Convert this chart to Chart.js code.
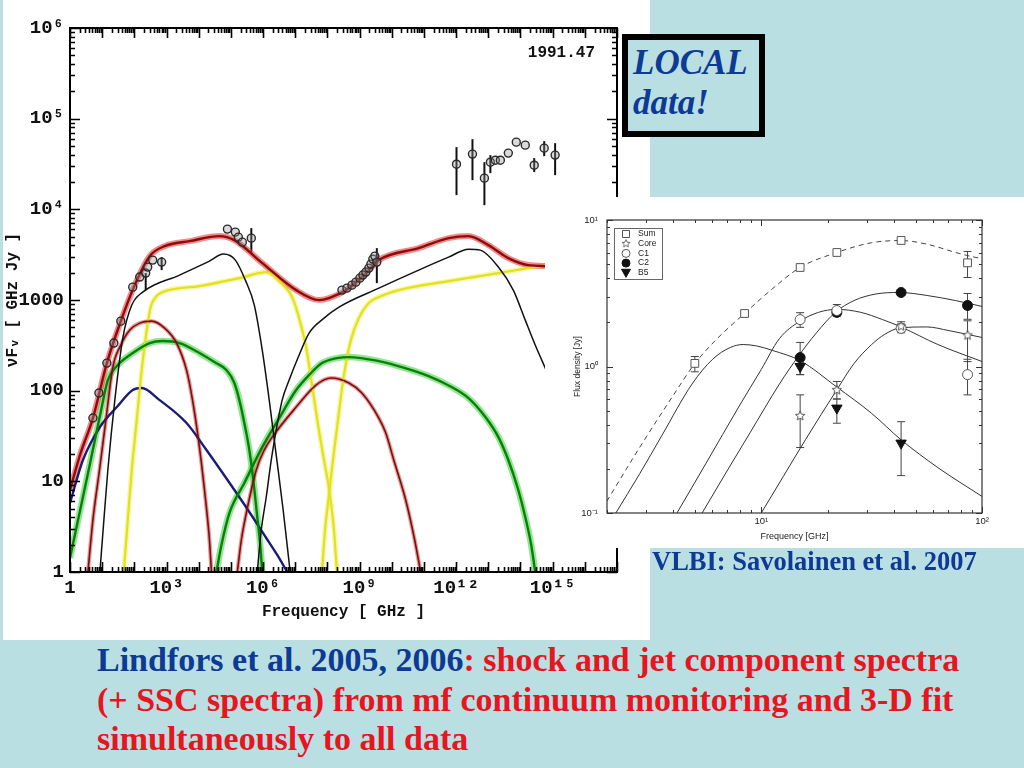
<!DOCTYPE html>
<html>
<head>
<meta charset="utf-8">
<title>Lindfors et al. spectra and VLBI component spectra</title>
<script src="https://cdn.jsdelivr.net/npm/chart.js@4.4.1/dist/chart.umd.min.js"></script>
<style>
  html, body { margin: 0; padding: 0; }
  body { width: 1024px; height: 768px; background: #badfe3; position: relative; overflow: hidden; }
  #leftPanel { position: absolute; left: 3px; top: 0; width: 647px; height: 640px; background: #fff; }
  #sed { position: absolute; left: 0; top: 0; }
  #local { position: absolute; left: 622px; top: 34px; width: 143px; height: 103px; box-sizing: border-box;
           border: 6px solid #000; background: #badfe3; color: #0d3a94;
           font: italic bold 35px "Liberation Serif", serif; line-height: 40px; padding: 3px 0 0 5px; }
  #insetPanel { position: absolute; left: 545px; top: 197px; width: 479px; height: 351px; background: #fff; }
  #vlbi { position: absolute; left: 545px; top: 197px; }
  #caption { position: absolute; left: 652px; top: 548px; color: #0d3a94; white-space: nowrap;
             font: bold 26.5px "Liberation Serif", serif; line-height: 26px; }
  #notes { position: absolute; left: 97px; top: 640px; color: #e8141e; white-space: nowrap;
           font: bold 34px "Liberation Serif", serif; line-height: 39.5px; }
  #notes .who { color: #0d3a94; }
</style>
</head>
<body>
<div id="leftPanel"></div>
<canvas id="sed" width="650" height="640"></canvas>
<div id="local">LOCAL<br>data!</div>
<div id="insetPanel"></div>
<canvas id="vlbi" width="479" height="351"></canvas>
<div id="caption">VLBI: Savolainen et al. 2007</div>
<div id="notes"><span class="who">Lindfors et al. 2005, 2006</span>: shock and jet component spectra<br>(+ SSC spectra) from mf continuum monitoring and 3-D fit<br>simultaneously to all data</div>

<script>
// ---- main SED (epoch 1991.47) ----
// curves as [log10(nu / GHz), log10(nuFnu / GHz Jy)]
const sumCurve = [[0,0.904],[0.310,1.290],[0.712,1.698],[1.146,2.304],[1.579,2.767],[2.012,3.164],[2.477,3.484],
  [2.941,3.594],[3.715,3.649],[4.644,3.705],[5.108,3.660],[5.975,3.407],[7.028,3.109],[7.740,2.999],[8.050,3.021],
  [8.576,3.109],[9.288,3.330],[9.598,3.440],[10.836,3.572],[11.765,3.682],[12.384,3.705],[13.003,3.605],
  [13.622,3.462],[14.241,3.385],[14.861,3.374]];
const shockSync1 = [[0.929,0],[1.053,0.573],[1.176,1.125],[1.393,1.896],[1.641,2.580],[1.920,2.944],[2.260,3.087],
  [3.406,3.275],[4.334,3.429],[4.768,3.506],[5.139,3.440],[5.449,3.219],[5.728,2.944],[5.975,2.448],[6.192,1.896],
  [6.409,1.290],[6.625,0.684],[6.811,0.099],[6.842,0]];
const shockSsc1 = [[5.820,0],[5.944,0.463],[6.099,0.827],[6.254,1.235],[6.409,1.566],[6.594,1.896],[6.811,2.117],
  [7.121,2.393],[7.430,2.635],[7.895,2.800],[8.359,2.922],[9.598,3.131],[10.836,3.330],[11.765,3.473],[12.384,3.561],
  [12.755,3.550],[13.313,3.363],[13.777,3.109],[14.149,2.778],[14.458,2.503],[14.799,2.227]];
const shockSync2 = [[0.557,0],[0.712,0.573],[0.929,1.158],[1.115,1.676],[1.331,2.260],[1.579,2.503],[1.858,2.668],
  [2.167,2.745],[2.539,2.767],[2.941,2.690],[3.313,2.525],[3.622,2.227],[3.808,1.896],[3.994,1.455],[4.180,0.904],
  [4.334,0.353],[4.396,0]];
const shockSsc2 = [[5.201,0],[5.325,0.353],[5.480,0.650],[5.789,1.125],[6.037,1.345],[6.285,1.488],[7.028,1.819],
  [7.647,2.062],[8.111,2.139],[8.669,2.084],[9.071,1.974],[9.598,1.698],[9.814,1.533],[10.062,1.235],[10.433,0.794],
  [10.712,0.353],[10.898,0]];
const jetSync = [[0,0.154],[0.310,0.673],[0.619,1.191],[0.929,1.720],[1.176,2.117],[1.455,2.271],[1.950,2.415],
  [2.477,2.525],[2.879,2.547],[3.406,2.525],[4.025,2.415],[4.489,2.315],[4.861,2.227],[5.108,2.084],[5.263,1.896],
  [5.418,1.643],[5.573,1.345],[5.697,1.014],[5.820,0.606],[5.913,0.298],[5.975,0]];
const jetSsc = [[4.551,0],[4.706,0.298],[4.954,0.650],[5.418,0.982],[5.975,1.378],[6.502,1.698],[7.028,2.007],
  [7.430,2.172],[7.833,2.304],[8.297,2.359],[8.669,2.370],[9.598,2.326],[10.310,2.260],[11.146,2.161],[11.858,2.040],
  [12.384,1.918],[12.910,1.709],[13.313,1.488],[13.622,1.235],[13.932,0.904],[14.149,0.606],[14.334,0.298],[14.458,0]];
const shockSync3 = [[1.672,0],[1.796,0.573],[1.920,1.125],[2.074,1.676],[2.229,2.227],[2.384,2.668],[2.508,2.922],
  [2.663,3.032],[2.879,3.087],[4.025,3.153],[5.263,3.241],[6.099,3.308],[6.502,3.208],[6.904,3.032],[7.121,2.800],
  [7.337,2.481],[7.523,2.062],[7.709,1.621],[7.895,1.235],[8.080,0.849],[8.204,0.463],[8.297,0]];
const shockSsc3 = [[7.833,0],[7.926,0.463],[8.050,0.849],[8.173,1.235],[8.328,1.676],[8.514,2.172],[8.731,2.558],
  [8.978,2.800],[9.288,2.966],[9.752,3.054],[10.217,3.109],[11.765,3.208],[13.313,3.297],[14.799,3.385]];
const quiescent = [[0,0.761],[0.402,1.235],[0.929,1.599],[1.455,1.819],[1.950,2.007],[2.229,2.029],[2.786,1.896],
  [3.622,1.643],[4.241,1.345],[5.046,0.937],[5.573,0.662],[6.099,0.375],[6.502,0.154],[6.749,0]];

// observed points (log10 units), error bar ends where drawn
const radioLogNu = [0.712,0.898,1.146,1.362,1.579,1.950,2.167,2.353,2.415,2.570,2.848];
const radioLogF  = [1.698,1.974,2.304,2.525,2.767,3.142,3.253,3.297,3.363,3.440,3.418];
const radioLo    = [null,null,null,null,null,null,null,3.109,null,null,3.330];
const radioHi    = [null,null,null,null,null,null,null,3.297,null,null,3.473];
const mmLogNu = [4.892,5.139,5.232,5.356,5.635];
const mmLogF  = [3.782,3.749,3.693,3.638,3.682];
const mmLo    = [null,null,null,null,3.517];
const mmHi    = [null,null,null,null,3.793];
const irLogNu = [8.452,8.607,8.762,8.885,9.009,9.102,9.195,9.288,9.350,9.412,9.474,9.536];
const irLogF  = [3.109,3.131,3.164,3.197,3.241,3.275,3.308,3.352,3.396,3.451,3.484,3.418];
const irLo    = [null,null,null,null,null,null,null,null,null,null,null,3.186];
const irHi    = [null,null,null,null,null,null,null,null,null,null,null,3.572];
const hiLogNu = [12.012,12.508,12.879,13.065,13.220,13.375,13.622,13.870,14.149,14.427,14.737,15.077];
const hiLogF  = [4.498,4.609,4.344,4.520,4.542,4.542,4.620,4.741,4.708,4.487,4.675,4.598];
const hiLo    = [4.157,4.322,4.046,4.399,null,null,null,null,null,4.411,4.587,4.377];
const hiHi    = [4.686,4.774,4.520,4.598,null,null,null,null,null,4.565,4.752,4.730];

const mainXTickValues = [1, 1e3, 1e6, 1e9, 1e12, 1e15];
const mainXTickLabels = ['1', '10³', '10⁶', '10⁹', '10¹²', '10¹⁵'];
const mainYTickValues = [1, 10, 100, 1000, 1e4, 1e5, 1e6];
const mainYTickLabels = ['1', '10', '100', '1000', '10⁴', '10⁵', '10⁶'];

// ---- VLBI component spectra (Savolainen et al. 2007) ----
const vlbiFreq = [5, 8.4, 15, 22, 43, 86];
const sumFlux = [1.05, 2.3, 4.74, 6.0, 7.25, 5.1];
const sumLo   = [0.92, null, null, null, null, 4.05];
const sumHi   = [1.17, null, null, null, null, 6.1];
const compFreq = [15, 22, 43, 86];
const coreFlux = [0.46, 0.69, 1.88, 1.63];
const coreLo   = [0.28, 0.6, 1.75, 1.08];
const coreHi   = [0.64, 0.79, 2.02, 2.05];
const c1Flux = [2.09, 2.41, 1.82, 0.88];
const c1Lo   = [1.85, 2.26, 1.7, 0.64];
const c1Hi   = [2.33, 2.65, 1.95, 1.12];
const c2Flux = [1.15, 2.34, 3.2, 2.61];
const c2Lo   = [0.88, 2.2, 3.05, 2.1];
const c2Hi   = [1.46, 2.5, 3.35, 3.15];
const b5Freq = [15, 22, 43];
const b5Flux = [1.0, 0.52, 0.30];
const b5Lo   = [0.88, 0.41, 0.18];
const b5Hi   = [1.1, 0.6, 0.42];
// fitted spectra, [log10(GHz), log10(Jy)]
const sumFit = [[0.3,-0.92],[0.45,-0.55],[0.6,-0.2],[0.699,0.02],[0.8,0.19],[0.924,0.362],[1.05,0.53],[1.176,0.676],
  [1.342,0.778],[1.5,0.845],[1.633,0.86],[1.75,0.835],[1.9,0.77],[2.0,0.735]];
const b5Fit = [[0.341,-1],[0.45,-0.73],[0.55,-0.47],[0.686,-0.12],[0.78,0.05],[0.86,0.13],[0.918,0.15],[0.98,0.14],
  [1.05,0.11],[1.176,0.04],[1.342,-0.14],[1.5,-0.32],[1.633,-0.5],[1.8,-0.69],[2.0,-0.887]];
const c1Fit = [[0.618,-1],[0.75,-0.66],[0.9,-0.27],[1.0,-0.02],[1.082,0.19],[1.176,0.31],[1.26,0.37],[1.342,0.39],
  [1.45,0.37],[1.55,0.32],[1.633,0.27],[1.8,0.15],[2.0,0.034]];
const c2Fit = [[0.732,-1],[0.85,-0.7],[0.95,-0.45],[1.082,-0.12],[1.168,0.07],[1.25,0.23],[1.336,0.37],[1.42,0.45],
  [1.52,0.495],[1.627,0.505],[1.75,0.485],[1.88,0.45],[2.0,0.41]];
const coreFit = [[1.0,-1],[1.1,-0.75],[1.2,-0.5],[1.342,-0.16],[1.42,0.02],[1.5,0.15],[1.56,0.22],[1.633,0.265],
  [1.75,0.27],[1.85,0.245],[2.0,0.198]];

const vlbiXTickValues = [10, 100];
const vlbiXTickLabels = ['10¹', '10²'];
const vlbiYTickValues = [0.1, 1, 10];
const vlbiYTickLabels = ['10⁻¹', '10⁰', '10¹'];

// helpers
const fromLog = pts => pts.map(p => ({ x: Math.pow(10, p[0]), y: Math.pow(10, p[1]) }));
const fromLogXY = (xs, ys) => xs.map((v, i) => ({ x: Math.pow(10, v), y: Math.pow(10, ys[i]) }));
const unLog = arr => arr.map(v => v == null ? null : Math.pow(10, v));
const zip = (xs, ys) => xs.map((v, i) => ({ x: v, y: ys[i] }));

function curve(label, pts, color, width, order, dash) {
  return { label, data: pts, borderColor: color, borderWidth: width, pointRadius: 0, fill: false,
           cubicInterpolationMode: 'monotone', order, borderDash: dash || [] };
}

function logTicks(min, max) {
  const out = [];
  for (let d = Math.floor(Math.log10(min)) - 1; d <= Math.ceil(Math.log10(max)); d++) {
    for (let m = 1; m <= 9; m++) {
      const v = m * Math.pow(10, d);
      if (v >= min * 0.9999 && v <= max * 1.0001) out.push({ v, major: m === 1 });
    }
  }
  return out;
}

// box frame with inward log ticks on all four sides
const axisFrame = {
  id: 'axisFrame',
  afterDatasetsDraw(chart, args, o) {
    const { ctx, chartArea: a, scales: { x, y } } = chart;
    ctx.save();
    ctx.strokeStyle = o.color;
    ctx.lineWidth = o.width;
    ctx.strokeRect(a.left, a.top, a.right - a.left, a.bottom - a.top);
    ctx.lineWidth = o.tickWidth;
    ctx.beginPath();
    logTicks(x.min, x.max).forEach(t => {
      const px = Math.round(x.getPixelForValue(t.v)) + 0.5, len = t.major ? o.major : o.minor;
      ctx.moveTo(px, a.bottom); ctx.lineTo(px, a.bottom - len);
      ctx.moveTo(px, a.top); ctx.lineTo(px, a.top + len);
    });
    logTicks(y.min, y.max).forEach(t => {
      const py = Math.round(y.getPixelForValue(t.v)) + 0.5, len = t.major ? o.major : o.minor;
      ctx.moveTo(a.left, py); ctx.lineTo(a.left + len, py);
      ctx.moveTo(a.right, py); ctx.lineTo(a.right - len, py);
    });
    ctx.stroke();
    if (o.stamp) {
      ctx.fillStyle = '#111';
      ctx.font = o.stamp.font;
      ctx.textAlign = 'right';
      ctx.textBaseline = 'middle';
      ctx.fillText(o.stamp.text, a.right - 22, a.top + 25);
    }
    ctx.restore();
  }
};

const errorBars = {
  id: 'errorBars',
  beforeDatasetsDraw(chart, args, o) {
    const { ctx, scales: { x, y } } = chart;
    ctx.save();
    ctx.strokeStyle = o.color;
    ctx.lineWidth = o.width;
    chart.data.datasets.forEach(ds => {
      if (!ds.errLo) return;
      ds.data.forEach((p, j) => {
        if (ds.errLo[j] == null) return;
        const px = x.getPixelForValue(p.x);
        const y1 = y.getPixelForValue(ds.errLo[j]), y2 = y.getPixelForValue(ds.errHi[j]);
        ctx.beginPath();
        ctx.moveTo(px, y1); ctx.lineTo(px, y2);
        if (o.cap) {
          ctx.moveTo(px - o.cap, y1); ctx.lineTo(px + o.cap, y1);
          ctx.moveTo(px - o.cap, y2); ctx.lineTo(px + o.cap, y2);
        }
        ctx.stroke();
      });
    });
    ctx.restore();
  }
};

function starImage(size, fill, stroke) {
  const c = document.createElement('canvas');
  c.width = c.height = size;
  const g = c.getContext('2d');
  const r = size / 2 - 1, ri = r * 0.45, cx = size / 2;
  g.beginPath();
  for (let k = 0; k < 10; k++) {
    const ang = -Math.PI / 2 + k * Math.PI / 5, rr = k % 2 ? ri : r;
    g.lineTo(cx + rr * Math.cos(ang), cx + rr * Math.sin(ang));
  }
  g.closePath();
  g.fillStyle = fill; g.fill();
  g.strokeStyle = stroke; g.lineWidth = 1; g.stroke();
  return c;
}

// ---------- main chart ----------
const monoTick = { family: '"Liberation Mono", monospace', size: 19, weight: 'bold' };
const monoTitle = { family: '"Liberation Mono", monospace', size: 16, weight: 'bold' };

function pointSet(label, xs, ys, lo, hi) {
  return { label, data: fromLogXY(xs, ys), showLine: false, pointRadius: 4, pointStyle: 'circle',
           pointBorderColor: '#2a2a2a', pointBorderWidth: 1.4, pointBackgroundColor: 'rgba(150,150,150,0.35)',
           errLo: unLog(lo), errHi: unLog(hi), order: 0 };
}

const sumPts = fromLog(sumCurve);
const mainDatasets = [
  pointSet('radio', radioLogNu, radioLogF, radioLo, radioHi),
  pointSet('mm', mmLogNu, mmLogF, mmLo, mmHi),
  pointSet('IR', irLogNu, irLogF, irLo, irHi),
  pointSet('high energy', hiLogNu, hiLogF, hiLo, hiHi),
  curve('sum', sumPts, '#8a0c0c', 2.4, 2),
  curve('sum halo', sumPts, 'rgba(235,60,60,0.6)', 6, 12),
  curve('shock 1 sync', fromLog(shockSync1), '#111', 1.5, 3),
  curve('shock 1 SSC', fromLog(shockSsc1), '#111', 1.5, 3),
  curve('shock 2 sync', fromLog(shockSync2), '#6e1414', 1.6, 4),
  curve('shock 2 sync halo', fromLog(shockSync2), 'rgba(230,60,60,0.55)', 4, 13),
  curve('shock 2 SSC', fromLog(shockSsc2), '#6e1414', 1.6, 4),
  curve('shock 2 SSC halo', fromLog(shockSsc2), 'rgba(230,60,60,0.55)', 4, 13),
  curve('jet sync', fromLog(jetSync), '#0b7d0b', 2.4, 5),
  curve('jet sync halo', fromLog(jetSync), 'rgba(70,215,70,0.6)', 6.5, 14),
  curve('jet SSC', fromLog(jetSsc), '#0b7d0b', 2.4, 5),
  curve('jet SSC halo', fromLog(jetSsc), 'rgba(70,215,70,0.6)', 6.5, 14),
  curve('shock 3 sync', fromLog(shockSync3), '#e2e21c', 2.2, 6),
  curve('shock 3 sync halo', fromLog(shockSync3), 'rgba(240,240,110,0.6)', 5, 15),
  curve('shock 3 SSC', fromLog(shockSsc3), '#e2e21c', 2.2, 6),
  curve('shock 3 SSC halo', fromLog(shockSsc3), 'rgba(240,240,110,0.6)', 5, 15),
  curve('quiescent', fromLog(quiescent), '#1c1c78', 2.4, 7)
];

new Chart(document.getElementById('sed'), {
  type: 'line',
  data: { datasets: mainDatasets },
  options: {
    responsive: false,
    animation: false,
    layout: { padding: { top: 28, right: 33, left: 0, bottom: 0 } },
    plugins: {
      legend: { display: false },
      tooltip: { enabled: false },
      axisFrame: { color: '#000', width: 2, tickWidth: 1.6, major: 10, minor: 5,
                   stamp: { text: '1991.47', font: 'bold 16px "Liberation Mono", monospace' } },
      errorBars: { color: '#111', width: 2, cap: 0 }
    },
    scales: {
      x: {
        type: 'logarithmic', min: 1, max: 1e17, position: 'bottom',
        afterBuildTicks: s => { s.ticks = mainXTickValues.map(v => ({ value: v })); },
        afterFit: s => { s.height = 68; },
        grid: { display: false, drawTicks: false },
        border: { display: false },
        ticks: { autoSkip: false, maxRotation: 0, padding: 5, color: '#111', font: monoTick,
                 callback: v => mainXTickLabels[mainXTickValues.findIndex(t => Math.abs(Math.log10(t) - Math.log10(v)) < 1e-6)] },
        title: { display: true, text: 'Frequency [ GHz ]', color: '#111', font: monoTitle, padding: { top: 0, bottom: 18 } }
      },
      y: {
        type: 'logarithmic', min: 1, max: 1e6, position: 'left',
        afterBuildTicks: s => { s.ticks = mainYTickValues.map(v => ({ value: v })); },
        afterFit: s => { s.width = 70; },
        grid: { display: false, drawTicks: false },
        border: { display: false },
        ticks: { autoSkip: false, padding: 6, color: '#111', font: monoTick,
                 callback: v => mainYTickLabels[mainYTickValues.findIndex(t => Math.abs(Math.log10(t) - Math.log10(v)) < 1e-6)] },
        title: { display: true, text: 'νFᵥ [ GHz Jy ]', color: '#111', font: monoTitle, padding: { top: 3, bottom: 0 } }
      }
    }
  },
  plugins: [axisFrame, errorBars]
});

// ---------- VLBI inset ----------
const starMark = starImage(12, '#fff', '#555');
const vlbiMarkers = [
  { label: 'Sum',  pointStyle: 'rect',     radius: 5.5, rotation: 0,   fill: '#fff',  stroke: '#555' },
  { label: 'Core', pointStyle: starMark,   radius: 6,   rotation: 0,   fill: '#fff',  stroke: '#555' },
  { label: 'C1',   pointStyle: 'circle',   radius: 5,   rotation: 0,   fill: '#fff',  stroke: '#555' },
  { label: 'C2',   pointStyle: 'circle',   radius: 5,   rotation: 0,   fill: '#111',  stroke: '#111' },
  { label: 'B5',   pointStyle: 'triangle', radius: 6,   rotation: 180, fill: '#111',  stroke: '#111' }
];

function vlbiSet(k, xs, ys, lo, hi) {
  const m = vlbiMarkers[k];
  return { label: m.label, data: zip(xs, ys), showLine: false, pointStyle: m.pointStyle, pointRadius: m.radius,
           pointRotation: m.rotation, pointBackgroundColor: m.fill, pointBorderColor: m.stroke, pointBorderWidth: 1,
           errLo: lo, errHi: hi, order: 0 };
}

const vlbiLegend = {
  id: 'vlbiLegend',
  afterDraw(chart) {
    const { ctx, chartArea: a } = chart;
    const x0 = a.left + 7, y0 = a.top + 8, w = 48, h = 51;
    ctx.save();
    ctx.strokeStyle = '#666'; ctx.lineWidth = 1;
    ctx.strokeRect(x0 + 0.5, y0 + 0.5, w, h);
    ctx.font = '8.5px "Liberation Sans", Arial, sans-serif';
    ctx.fillStyle = '#222'; ctx.textBaseline = 'middle'; ctx.textAlign = 'left';
    vlbiMarkers.forEach((m, i) => {
      const cy = y0 + 6 + i * 9.7, cx = x0 + 12;
      ctx.fillStyle = m.fill; ctx.strokeStyle = m.stroke;
      if (m.pointStyle === starMark) {
        ctx.drawImage(starMark, cx - 5, cy - 5, 10, 10);
      } else {
        ctx.beginPath();
        if (m.pointStyle === 'rect') ctx.rect(cx - 3.5, cy - 3.5, 7, 7);
        else if (m.pointStyle === 'circle') ctx.arc(cx, cy, 4, 0, Math.PI * 2);
        else { ctx.moveTo(cx - 4.5, cy - 3.5); ctx.lineTo(cx + 4.5, cy - 3.5); ctx.lineTo(cx, cy + 4.5); ctx.closePath(); }
        ctx.fill(); ctx.stroke();
      }
      ctx.fillStyle = '#222';
      ctx.fillText(m.label, x0 + 24, cy);
    });
    ctx.restore();
  }
};

const sansTick = { family: '"Liberation Sans", Arial, sans-serif', size: 9.5 };
const sansTitle = { family: '"Liberation Sans", Arial, sans-serif', size: 9 };

new Chart(document.getElementById('vlbi'), {
  type: 'line',
  data: {
    datasets: [
      vlbiSet(0, vlbiFreq, sumFlux, sumLo, sumHi),
      vlbiSet(1, compFreq, coreFlux, coreLo, coreHi),
      vlbiSet(2, compFreq, c1Flux, c1Lo, c1Hi),
      vlbiSet(3, compFreq, c2Flux, c2Lo, c2Hi),
      vlbiSet(4, b5Freq, b5Flux, b5Lo, b5Hi),
      curve('Sum fit', fromLog(sumFit), '#444', 1, 5, [5, 4]),
      curve('Core fit', fromLog(coreFit), '#333', 1, 5),
      curve('C1 fit', fromLog(c1Fit), '#333', 1, 5),
      curve('C2 fit', fromLog(c2Fit), '#333', 1, 5),
      curve('B5 fit', fromLog(b5Fit), '#333', 1, 5)
    ]
  },
  options: {
    responsive: false,
    animation: false,
    layout: { padding: { top: 23, right: 42, left: 0, bottom: 0 } },
    plugins: {
      legend: { display: false },
      tooltip: { enabled: false },
      axisFrame: { color: '#333', width: 1.2, tickWidth: 1, major: 6, minor: 3 },
      errorBars: { color: '#444', width: 1, cap: 4 }
    },
    scales: {
      x: {
        type: 'logarithmic', min: 2, max: 100, position: 'bottom',
        afterBuildTicks: s => { s.ticks = vlbiXTickValues.map(v => ({ value: v })); },
        afterFit: s => { s.height = 35; },
        grid: { display: false, drawTicks: false },
        border: { display: false },
        ticks: { autoSkip: false, maxRotation: 0, padding: 3, color: '#222', font: sansTick,
                 callback: v => vlbiXTickLabels[vlbiXTickValues.findIndex(t => Math.abs(t - v) < 1e-6)] },
        title: { display: true, text: 'Frequency [GHz]', color: '#222', font: sansTitle, padding: { top: 0, bottom: 6.5 } }
      },
      y: {
        type: 'logarithmic', min: 0.1, max: 10, position: 'left',
        afterBuildTicks: s => { s.ticks = vlbiYTickValues.map(v => ({ value: v })); },
        afterFit: s => { s.width = 62; },
        grid: { display: false, drawTicks: false },
        border: { display: false },
        ticks: { autoSkip: false, padding: 9, color: '#222', font: sansTick,
                 callback: v => vlbiYTickLabels[vlbiYTickValues.findIndex(t => Math.abs(t - v) < 1e-9)] },
        title: { display: true, text: 'Flux density [Jy]', color: '#222', font: { family: '"Liberation Sans", Arial, sans-serif', size: 8.5 },
                 padding: { top: 28, bottom: 0 } }
      }
    }
  },
  plugins: [axisFrame, errorBars, vlbiLegend]
});
</script>
</body>
</html>
